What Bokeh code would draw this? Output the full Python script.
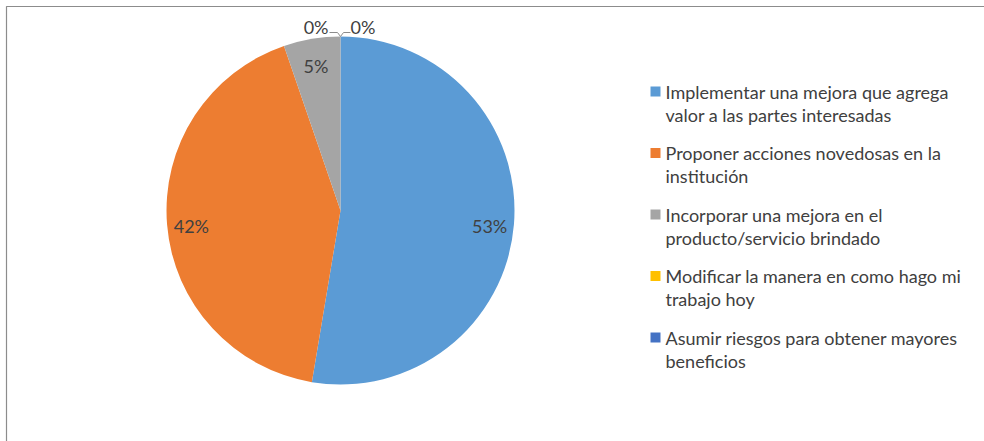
import math
from bokeh.plotting import figure
from bokeh.models import Range1d
from bokeh.core.properties import value
from bokeh.embed import file_html
from bokeh.resources import INLINE

# ---- data ----
categories = [
    "Implementar una mejora que agrega\nvalor a las partes interesadas",
    "Proponer acciones novedosas en la\ninstitución",
    "Incorporar una mejora en el\nproducto/servicio brindado",
    "Modificar la manera en como hago mi\ntrabajo hoy",
    "Asumir riesgos para obtener mayores\nbeneficios",
]
counts = [10, 8, 1, 0, 0]
colors = ["#5B9BD5", "#ED7D31", "#A5A5A5", "#FFC000", "#4472C4"]

W, H = 984, 441
FONT = "Lato"
FS = "18px"
TXT = "#404040"

p = figure(width=W, height=H, output_backend="svg", toolbar_location=None,
           x_range=Range1d(0, W), y_range=Range1d(0, H), min_border=0)
p.axis.visible = False
p.grid.visible = False
p.outline_line_color = None
p.background_fill_color = "white"
p.border_fill_color = "white"

# chart area border (top and left visible)
p.line([6, 6, W + 10], [-10, H - 6, H - 6], line_color="#8C8C8C", line_width=1.2)

cx, cy, R = 340, H - 210, 174
total = sum(counts)
start = math.pi / 2
starts, ends, mids = [], [], []
for c in counts:
    sweep = 2 * math.pi * c / total
    starts.append(start)
    ends.append(start - sweep)
    mids.append(start - sweep / 2)
    start -= sweep

nz = [i for i, c in enumerate(counts) if c > 0]
p.wedge(x=[cx] * len(nz), y=[cy] * len(nz), radius=R,
        start_angle=[starts[i] for i in nz], end_angle=[ends[i] for i in nz],
        direction="clock", fill_color=[colors[i] for i in nz], line_color=None)

# labels
pct = [round(100 * c / total) for c in counts]
lx, ly, lt = [], [], []
for i in nz:
    r = 0.86 * R
    lx.append(cx + r * math.cos(mids[i]))
    ly.append(cy + r * math.sin(mids[i]) - 3)
    lt.append(f"{pct[i]}%")
p.text(x=lx, y=ly, text=lt, text_font=value(FONT), text_font_size=FS,
       text_color=TXT, text_align="center", text_baseline="middle")

zeros = [i for i, c in enumerate(counts) if c == 0]
ty = cy + R + 4
if len(zeros) >= 1:
    p.text(x=[cx - 12], y=[ty + 6], text=[f"{pct[zeros[0]]}%"], text_font=value(FONT),
           text_font_size=FS, text_color=TXT, text_align="right", text_baseline="middle")
if len(zeros) >= 2:
    p.text(x=[cx + 10], y=[ty + 6], text=[f"{pct[zeros[1]]}%"], text_font=value(FONT),
           text_font_size=FS, text_color=TXT, text_align="left", text_baseline="middle")
p.line([cx - 11, cx - 3, cx, cx + 3, cx + 10], [ty, ty, cy + R, ty, ty],
       line_color="#8C8C8C", line_width=1)

# legend
leg_x = 655
leg_y0 = H - 91
step = 61.5
for i, cat in enumerate(categories):
    yy = leg_y0 - i * step
    p.rect(x=[leg_x], y=[yy], width=10, height=10, fill_color=colors[i], line_color=None)
    lines = cat.split("\n")
    p.text(x=[leg_x + 10] * len(lines), y=[yy - 23 * k for k in range(len(lines))],
           text=lines, text_font=value(FONT), text_font_size=FS,
           text_color=TXT, text_align="left", text_baseline="middle")

open("out.html", "w").write(file_html(p, INLINE))
